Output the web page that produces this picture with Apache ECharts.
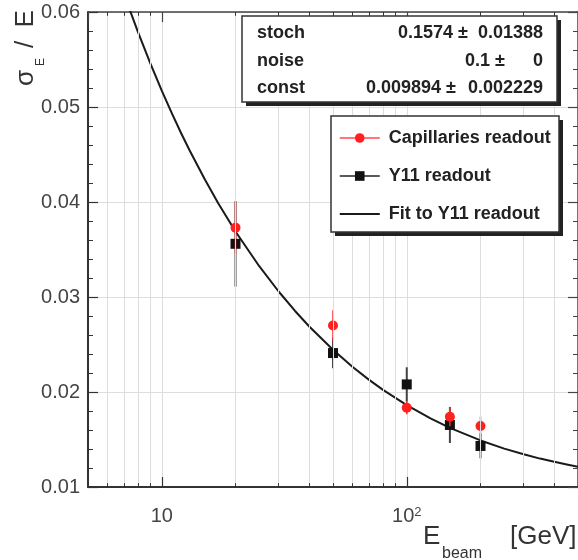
<!DOCTYPE html>
<html>
<head>
<meta charset="utf-8">
<script src="https://cdn.jsdelivr.net/npm/echarts@6/dist/echarts.min.js"></script>
<style>
html,body{margin:0;padding:0;background:#fff;}
#chart{width:578px;height:560px;}
</style>
</head>
<body>
<div id="chart"></div>
<script>
// ---- data ----
const energies = [20, 50, 100, 150, 200];
const capValues = [0.0373, 0.0270, 0.01835, 0.0174, 0.01642];
const capErrors = [0.0027, 0.0016, 0.0007, 0.0010, 0.0010];
const y11Values = [0.0356, 0.0241, 0.0208, 0.01653, 0.01432];
const y11Errors = [0.0045, 0.0016, 0.0018, 0.0019, 0.0013];
const fitEnergies = [7.4, 8, 9, 10, 11, 12, 13, 15, 17, 20, 25, 30, 35, 40, 50, 60, 70, 80, 100, 125, 150, 200, 250, 300, 350, 400, 450, 500];
const fitValues = [0.06024, 0.05789, 0.05454, 0.05172, 0.04932, 0.04724, 0.04542, 0.04236, 0.03987, 0.03690, 0.03324, 0.03058, 0.02853, 0.02690, 0.02444, 0.02266, 0.02130, 0.02023, 0.01862, 0.01723, 0.01623, 0.01490, 0.01404, 0.01344, 0.01299, 0.01265, 0.01237, 0.01214];
const xMinorTicks = [6, 7, 8, 9, 20, 30, 40, 50, 60, 70, 80, 90, 200, 300, 400];
const statNames = ['stoch', 'noise', 'const'];
const statValues = ['0.1574 \u00b1', '0.1 \u00b1', '0.009894 \u00b1'];
const statErrors = ['0.01388', '0', '0.002229'];
const seriesNames = ['Capillaries readout', 'Y11 readout', 'Fit to Y11 readout'];

const FONT = 'Liberation Sans, Arial, Helvetica, sans-serif';
const chart = echarts.init(document.getElementById('chart'), null, {renderer: 'canvas'});

function errData(xs, ys, es) {
  return xs.map((x, i) => [x, ys[i] - es[i], ys[i] + es[i]]);
}
function errSeries(data, color, width, z) {
  return {
    type: 'custom', silent: true, z: z,
    data: data,
    encode: {x: 0, y: [1, 2]},
    renderItem: function (params, api) {
      const p1 = api.coord([api.value(0), api.value(1)]);
      const p2 = api.coord([api.value(0), api.value(2)]);
      return {type: 'line', shape: {x1: p1[0], y1: p1[1], x2: p2[0], y2: p2[1]},
              style: {stroke: color, lineWidth: width}};
    }
  };
}

const gridMarks = xMinorTicks.map(v => ({xAxis: v}));
const tickMarks = [];
xMinorTicks.forEach(v => {
  tickMarks.push([{coord: [v, 0.01]}, {coord: [v, 0.0104]}]);
  tickMarks.push([{coord: [v, 0.06]}, {coord: [v, 0.0596]}]);
});

const statTexts = [];
const rowY = [33, 61, 88];
const valRight = [468, 505, 456];
statNames.forEach((n, i) => {
  statTexts.push({type: 'text', z: 52, x: 257, y: rowY[i],
    style: {text: n, font: 'bold 18px ' + FONT, fill: '#222', textAlign: 'left', textVerticalAlign: 'middle'}});
  statTexts.push({type: 'text', z: 52, x: valRight[i], y: rowY[i],
    style: {text: statValues[i], font: 'bold 18px ' + FONT, fill: '#222', textAlign: 'right', textVerticalAlign: 'middle'}});
  statTexts.push({type: 'text', z: 52, x: 543, y: rowY[i],
    style: {text: statErrors[i], font: 'bold 18px ' + FONT, fill: '#222', textAlign: 'right', textVerticalAlign: 'middle'}});
});

const option = {
  animation: false,
  backgroundColor: '#fff',
  grid: {left: 88, right: 0, top: 12, bottom: 73},
  xAxis: [{
    type: 'log', logBase: 10, min: 5, max: 500, position: 'bottom',
    axisLine: {show: true, lineStyle: {color: '#333', width: 2}},
    axisTick: {show: true, inside: true, length: 10, lineStyle: {color: '#333', width: 1.2}},
    axisLabel: {
      margin: 19, color: '#444', fontSize: 20, fontFamily: FONT,
      showMinLabel: false, showMaxLabel: false,
      formatter: function (v) {
        if (Math.abs(v - 10) < 1e-6) return '{b|10}';
        if (Math.abs(v - 100) < 1e-6) return '{b|10}{s|2}';
        return '';
      },
      rich: {b: {fontSize: 20, color: '#444', fontFamily: FONT},
             s: {fontSize: 13, color: '#444', fontFamily: FONT, verticalAlign: 'top'}}
    },
    splitLine: {show: true, lineStyle: {color: '#dddddd', width: 1}},
    minorTick: {show: false}
  }, {
    type: 'log', logBase: 10, min: 5, max: 500, position: 'top',
    axisLine: {show: true, lineStyle: {color: '#444', width: 1.5}},
    axisTick: {show: true, inside: true, length: 10, lineStyle: {color: '#444', width: 1.2}},
    axisLabel: {show: false},
    splitLine: {show: false}
  }],
  yAxis: [{
    type: 'value', min: 0.01, max: 0.06, interval: 0.01, position: 'left',
    axisLine: {show: true, lineStyle: {color: '#333', width: 2}},
    axisTick: {show: true, inside: true, length: 10, lineStyle: {color: '#333', width: 1.2}},
    minorTick: {show: true, splitNumber: 5, length: 5, lineStyle: {color: '#333', width: 1}},
    axisLabel: {margin: 8, color: '#444', fontSize: 20, fontFamily: FONT,
      formatter: v => v.toFixed(2)},
    splitLine: {show: true, lineStyle: {color: '#dddddd', width: 1}}
  }, {
    type: 'value', min: 0.01, max: 0.06, interval: 0.01, position: 'right',
    axisLine: {show: true, lineStyle: {color: '#444', width: 1.5}},
    axisTick: {show: true, inside: true, length: 10, lineStyle: {color: '#444', width: 1.2}},
    minorTick: {show: true, splitNumber: 5, length: 5, lineStyle: {color: '#444', width: 1}},
    axisLabel: {show: false},
    splitLine: {show: false}
  }],
  legend: {
    z: 100, orient: 'vertical', left: 339, top: 129, padding: 0,
    itemWidth: 40, itemHeight: 12, itemGap: 20,
    textStyle: {fontFamily: FONT, fontSize: 18, fontWeight: 'bold', color: '#222', padding: [0, 0, 0, 4]},
    data: [
      {name: seriesNames[0], lineStyle: {width: 1.5, color: '#ff4a4a', opacity: 1}},
      {name: seriesNames[1], lineStyle: {width: 1.5, color: '#222', opacity: 1}},
      {name: seriesNames[2], icon: 'path://M0,0h40v2h-40z', itemStyle: {color: '#1a1a1a'}}
    ]
  },
  graphic: [
    {type: 'rect', z: 50, shape: {x: 246, y: 20, width: 315, height: 86}, style: {fill: '#222'}},
    {type: 'rect', z: 51, shape: {x: 242, y: 16, width: 315, height: 86}, style: {fill: '#fff', stroke: '#333', lineWidth: 1.5}},
    {type: 'rect', z: 50, shape: {x: 335, y: 120, width: 228, height: 116}, style: {fill: '#222'}},
    {type: 'rect', z: 51, shape: {x: 331, y: 116, width: 228, height: 116}, style: {fill: '#fff', stroke: '#333', lineWidth: 1.5}},
    ...statTexts,
    // x axis title
    {type: 'text', z: 52, x: 423, y: 536.5, style: {text: 'E', font: '26px ' + FONT, fill: '#333', textAlign: 'left', textVerticalAlign: 'middle'}},
    {type: 'text', z: 52, x: 442, y: 553.5, style: {text: 'beam', font: '16px ' + FONT, fill: '#333', textAlign: 'left', textVerticalAlign: 'middle'}},
    {type: 'text', z: 52, x: 510, y: 536.5, style: {text: '[GeV]', font: '26px ' + FONT, fill: '#333', textAlign: 'left', textVerticalAlign: 'middle'}},
    // y axis title (rotated)
    {type: 'text', z: 52, x: 26, y: 86, rotation: Math.PI / 2, style: {text: '\u03c3', font: '26px ' + FONT, fill: '#333', textAlign: 'left', textVerticalAlign: 'middle'}},
    {type: 'text', z: 52, x: 41, y: 66, rotation: Math.PI / 2, style: {text: 'E', font: '12px ' + FONT, fill: '#333', textAlign: 'left', textVerticalAlign: 'middle'}},
    {type: 'text', z: 52, x: 26, y: 48, rotation: Math.PI / 2, style: {text: '/', font: '26px ' + FONT, fill: '#333', textAlign: 'left', textVerticalAlign: 'middle'}},
    {type: 'text', z: 52, x: 26, y: 27.5, rotation: Math.PI / 2, style: {text: 'E', font: '26px ' + FONT, fill: '#333', textAlign: 'left', textVerticalAlign: 'middle'}}
  ],
  series: [
    {
      type: 'line', data: [], silent: true, z: 1, symbol: 'none',
      markLine: {silent: true, symbol: ['none', 'none'], label: {show: false}, animation: false,
        lineStyle: {color: '#dddddd', width: 1, type: 'solid'}, emphasis: {disabled: true},
        data: gridMarks}
    },
    {
      type: 'line', data: [], silent: true, z: 6, symbol: 'none',
      markLine: {silent: true, symbol: ['none', 'none'], label: {show: false}, animation: false,
        lineStyle: {color: '#333', width: 1, type: 'solid'}, emphasis: {disabled: true},
        data: tickMarks}
    },
    {
      name: seriesNames[2], type: 'line', z: 2, smooth: false, symbol: 'none', showSymbol: false,
      data: fitEnergies.map((e, i) => [e, fitValues[i]]),
      lineStyle: {color: '#1a1a1a', width: 2, join: 'round'}, itemStyle: {color: '#1a1a1a'}
    },
    errSeries(errData(energies, y11Values, y11Errors), '#444', 2, 3),
    {
      name: seriesNames[1], type: 'line', z: 3, symbol: 'rect', symbolSize: 10,
      data: energies.map((e, i) => [e, y11Values[i]]),
      lineStyle: {width: 0, opacity: 0}, itemStyle: {color: '#111'}
    },
    errSeries(errData(energies, capValues, capErrors), '#ff2a2a', 1.5, 4),
    {
      name: seriesNames[0], type: 'line', z: 4, symbol: 'circle', symbolSize: 10,
      data: energies.map((e, i) => [e, capValues[i]]),
      lineStyle: {width: 0, opacity: 0}, itemStyle: {color: '#ff2020'}
    }
  ]
};
chart.setOption(option);
</script>
</body>
</html>
